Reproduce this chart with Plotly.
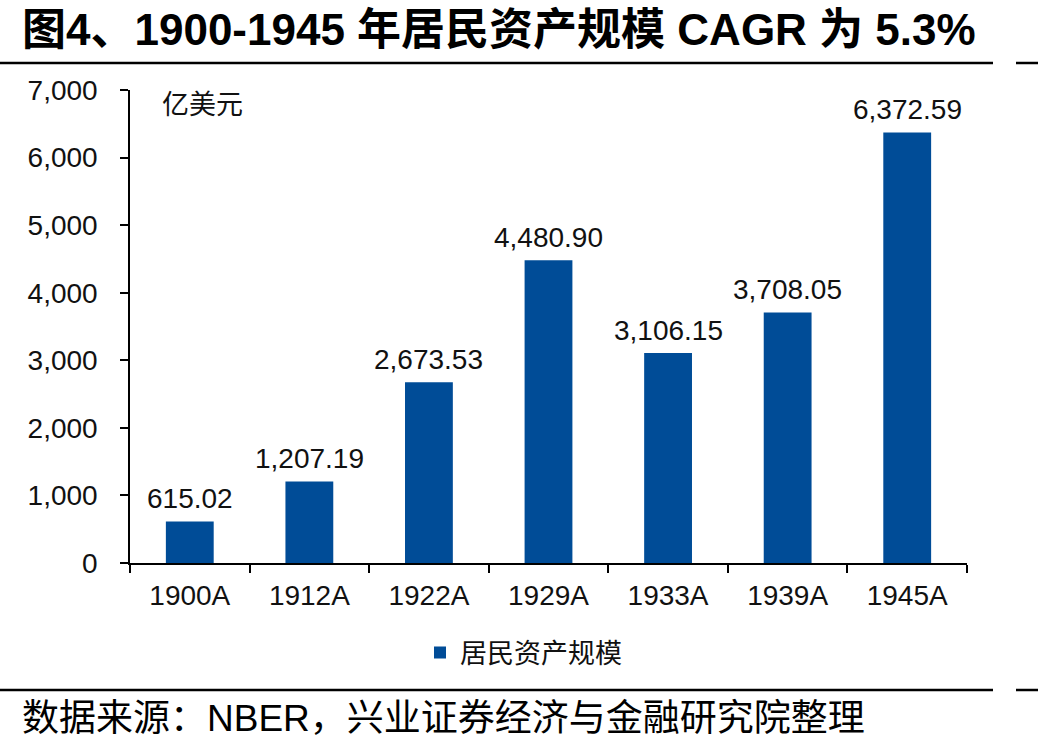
import plotly.graph_objects as go

categories = ["1900A", "1912A", "1922A", "1929A", "1933A", "1939A", "1945A"]
values = [615.02, 1207.19, 2673.53, 4480.90, 3106.15, 3708.05, 6372.59]
labels = ["615.02", "1,207.19", "2,673.53", "4,480.90", "3,106.15", "3,708.05", "6,372.59"]
series_name = "居民资产规模"
unit_label = "亿美元"
title_text = "图4、1900-1945 年居民资产规模 CAGR 为 5.3%"
source_text = "数据来源：NBER，兴业证券经济与金融研究院整理"

W, H = 1038, 750
L, R, T, B = 130, 71, 90, 187
PW = W - L - R
PH = H - T - B

FONT = "Liberation Sans, Arial, Noto Sans CJK SC, sans-serif"
BAR_COLOR = "#004C97"
TXT = "#111111"

fig = go.Figure()
fig.add_trace(go.Bar(
    x=categories, y=values, name=series_name,
    marker=dict(color=BAR_COLOR, line=dict(width=0)),
    showlegend=True,
))

# value labels above bars
for c, v, t in zip(categories, values, labels):
    fig.add_annotation(x=c, y=v, text=t, showarrow=False, xanchor="center",
                       yanchor="bottom", yshift=5,
                       font=dict(family=FONT, size=28, color=TXT))

def px_x(px):
    return (px - L) / PW

def px_y(py):
    return 1 - (py - T) / PH

# unit label
fig.add_annotation(xref="paper", yref="paper", x=px_x(160), y=px_y(105),
                   text=unit_label, showarrow=False, xanchor="left", yanchor="middle",
                   font=dict(family=FONT, size=27, color=TXT))

# title
fig.add_annotation(xref="paper", yref="paper", x=px_x(20), y=px_y(30),
                   text="<b>" + title_text + "</b>", showarrow=False,
                   xanchor="left", yanchor="middle",
                   font=dict(family=FONT, size=44, color="#000000"))

# source
fig.add_annotation(xref="paper", yref="paper", x=px_x(20), y=px_y(718),
                   text=source_text, showarrow=False,
                   xanchor="left", yanchor="middle",
                   font=dict(family=FONT, size=37, color="#000000"))

# separator lines
for yy in (63, 690):
    fig.add_shape(type="line", xref="paper", yref="paper",
                  x0=px_x(0), x1=px_x(993), y0=px_y(yy), y1=px_y(yy),
                  line=dict(color="#000000", width=2.5))
    fig.add_shape(type="line", xref="paper", yref="paper",
                  x0=px_x(1016), x1=px_x(1038), y0=px_y(yy), y1=px_y(yy),
                  line=dict(color="#000000", width=2.5))

fig.update_layout(
    width=W, height=H,
    margin=dict(l=L, r=R, t=T, b=B, pad=0),
    paper_bgcolor="white", plot_bgcolor="white",
    bargap=0.6,
    font=dict(family=FONT, size=27, color=TXT),
    showlegend=True,
    legend=dict(orientation="h", x=px_x(420), y=px_y(653), xanchor="left", yanchor="middle",
                font=dict(family=FONT, size=27, color=TXT),
                bgcolor="rgba(0,0,0,0)"),
)
fig.update_xaxes(
    showline=True, linecolor="#000000", linewidth=1.5,
    ticks="outside", tickson="boundaries", ticklen=8, tickcolor="#000000", tickwidth=1.5,
    showgrid=False, tickfont=dict(family=FONT, size=28, color=TXT),
    ticklabelstandoff=7,
)
fig.update_yaxes(
    range=[0, 7000], dtick=1000, tickformat=",d",
    showline=True, linecolor="#000000", linewidth=1.5,
    ticks="outside", ticklen=8, tickcolor="#000000", tickwidth=1.5,
    showgrid=False, zeroline=False,
    tickfont=dict(family=FONT, size=28, color=TXT),
    ticklabelstandoff=17,
)

fig.write_html("out.html")
